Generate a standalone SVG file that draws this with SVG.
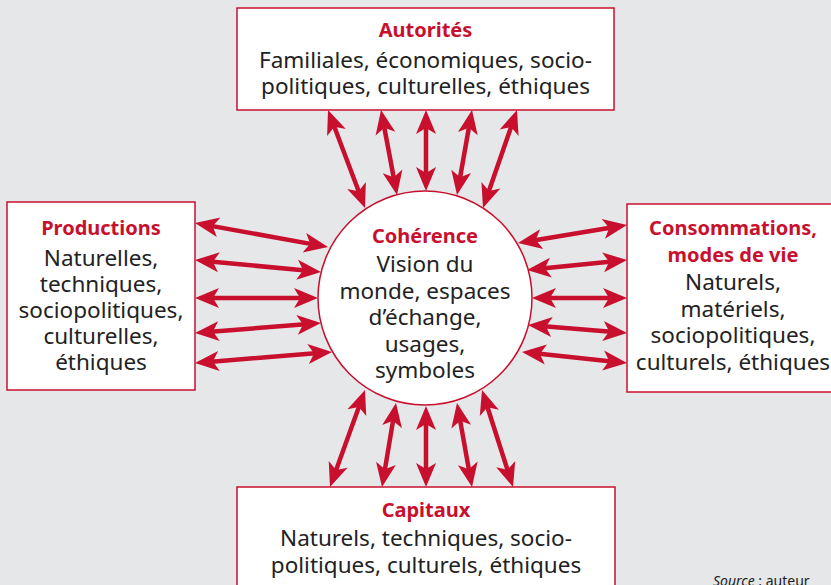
<svg xmlns="http://www.w3.org/2000/svg" width="831" height="585" viewBox="0 0 831 585">
<style>
.box{fill:#fff;stroke:#c8102e;stroke-width:1.5}
.t{font-family:"Noto Sans","Open Sans",sans-serif;text-anchor:middle}
.h{fill:#c8102e;font-weight:bold;font-size:20px}
.b{fill:#222;font-size:22.5px}
.arr{stroke:#c8102e;stroke-width:4.5;fill:none;stroke-dasharray:0 10 80 10;marker-start:url(#ah);marker-end:url(#ah)}
</style>
<defs>
<marker id="ah" viewBox="-26 -12 28 24" refX="0" refY="0" markerWidth="28" markerHeight="24" markerUnits="userSpaceOnUse" orient="auto-start-reverse">
<path d="M0,0 L-24,-10 L-18,0 L-24,10 Z" fill="#c8102e"/>
</marker>
</defs>
<rect width="831" height="585" fill="#e6e7e9"/>
<g id="connectors">
<path class="arr" pathLength="100" d="M328,110 L365,208"/>
<path class="arr" pathLength="100" d="M381,110 L397,195"/>
<path class="arr" pathLength="100" d="M426,110 L426,191"/>
<path class="arr" pathLength="100" d="M472,110 L457,195"/>
<path class="arr" pathLength="100" d="M517,110 L483,208"/>
<path class="arr" pathLength="100" d="M330,487 L365,390"/>
<path class="arr" pathLength="100" d="M382,487 L396,403"/>
<path class="arr" pathLength="100" d="M426,487 L426,406"/>
<path class="arr" pathLength="100" d="M472,487 L457,403"/>
<path class="arr" pathLength="100" d="M513,487 L482,390"/>
<path class="arr" pathLength="100" d="M195,223 L328,247"/>
<path class="arr" pathLength="100" d="M195,260 L321,272"/>
<path class="arr" pathLength="100" d="M195,298 L318,298"/>
<path class="arr" pathLength="100" d="M195,333 L321,323"/>
<path class="arr" pathLength="100" d="M195,363 L332,352"/>
<path class="arr" pathLength="100" d="M627,225 L518,243"/>
<path class="arr" pathLength="100" d="M627,260 L527,270"/>
<path class="arr" pathLength="100" d="M627,298 L532,298"/>
<path class="arr" pathLength="100" d="M627,333 L528,325"/>
<path class="arr" pathLength="100" d="M627,363 L522,352"/>
</g>
<g id="autorites">
<rect class="box" x="237" y="8" width="377" height="102"/>
<text class="t h" x="425.5" y="37">Autorités</text>
<text class="t b" x="425.5" y="68">Familiales, économiques, socio-</text>
<text class="t b" x="425.5" y="94">politiques, culturelles, éthiques</text>
</g>
<g id="productions">
<rect class="box" x="7" y="202" width="188" height="188"/>
<text class="t h" x="101" y="235">Productions</text>
<text class="t b" x="101" y="266">Naturelles,</text>
<text class="t b" x="101" y="292">techniques,</text>
<text class="t b" x="101" y="318">sociopolitiques,</text>
<text class="t b" x="101" y="344">culturelles,</text>
<text class="t b" x="101" y="370">éthiques</text>
</g>
<g id="coherence">
<circle cx="425" cy="298" r="107" fill="#fff" stroke="#c8102e" stroke-width="1.5"/>
<text class="t h" x="425" y="243">Cohérence</text>
<text class="t b" x="425" y="272">Vision du</text>
<text class="t b" x="425" y="298.5">monde, espaces</text>
<text class="t b" x="425" y="325">d’échange,</text>
<text class="t b" x="425" y="351.5">usages,</text>
<text class="t b" x="425" y="378">symboles</text>
</g>
<g id="consommations">
<rect class="box" x="627" y="204" width="212" height="188"/>
<text class="t h" x="733" y="235">Consommations,</text>
<text class="t h" x="733" y="262">modes de vie</text>
<text class="t b" x="733" y="290">Naturels,</text>
<text class="t b" x="733" y="317">matériels,</text>
<text class="t b" x="733" y="343">sociopolitiques,</text>
<text class="t b" x="733" y="370">culturels, éthiques</text>
</g>
<g id="capitaux">
<rect class="box" x="237" y="487" width="378" height="110"/>
<text class="t h" x="426" y="517">Capitaux</text>
<text class="t b" x="426" y="546">Naturels, techniques, socio-</text>
<text class="t b" x="426" y="573">politiques, culturels, éthiques</text>
</g>
<text x="713" y="586" font-family="Noto Sans, sans-serif" font-size="14" fill="#222"><tspan font-style="italic">Source</tspan> : auteur</text>
</svg>
